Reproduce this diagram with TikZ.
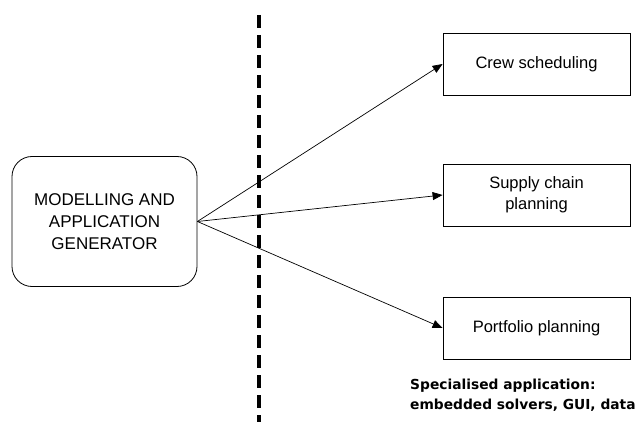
\documentclass[tikz,border=0pt]{standalone}
\usepackage{fontspec}
\setmainfont{Liberation Sans}
\newfontfamily\notefont{DejaVu Sans}
\usetikzlibrary{arrows.meta}
\begin{document}
\begin{tikzpicture}[x=1pt,y=-1pt,
  appbox/.style={draw, line width=0.8pt, minimum width=187pt, minimum height=62pt,
    align=center, inner sep=0pt, font=\fontsize{16.5}{21}\selectfont},
  genbox/.style={draw, line width=0.8pt, rounded corners=20pt, minimum width=185pt,
    minimum height=130pt, align=center, font=\fontsize{17}{22}\selectfont},
  link/.style={line width=0.7pt, -{Triangle[length=10pt,width=8pt]}},
  divider/.style={line width=3.6pt, dash pattern=on 13pt off 7pt}]
\useasboundingbox (0,0) rectangle (635,422);
% generator on the left
\node[genbox] (gen) at (104.5,221.5) {MODELLING AND\\APPLICATION\\GENERATOR};
% specialised applications on the right
\node[appbox] (crew) at (536.5,64) {Crew scheduling};
\node[appbox] (supply) at (536.5,195) {Supply chain\\planning};
\node[appbox] (port) at (536.5,328) {Portfolio planning};
% boundary between generator and generated applications
\coordinate (dtop) at (259,15);
\coordinate (dbot) at (259,422);
\draw[divider] (dtop) -- (dbot);
% connectors
\draw[link] (gen.east) -- (crew.west);
\draw[link] (gen.east) -- (supply.west);
\draw[link] (gen.east) -- (port.west);
% caption
\node[anchor=north west, align=left, inner sep=0pt,
  font=\notefont\bfseries\fontsize{13.8}{19.5}\selectfont] (cap) at (410,379)
  {Specialised application:\\embedded solvers, GUI, data};
\end{tikzpicture}
\end{document}
